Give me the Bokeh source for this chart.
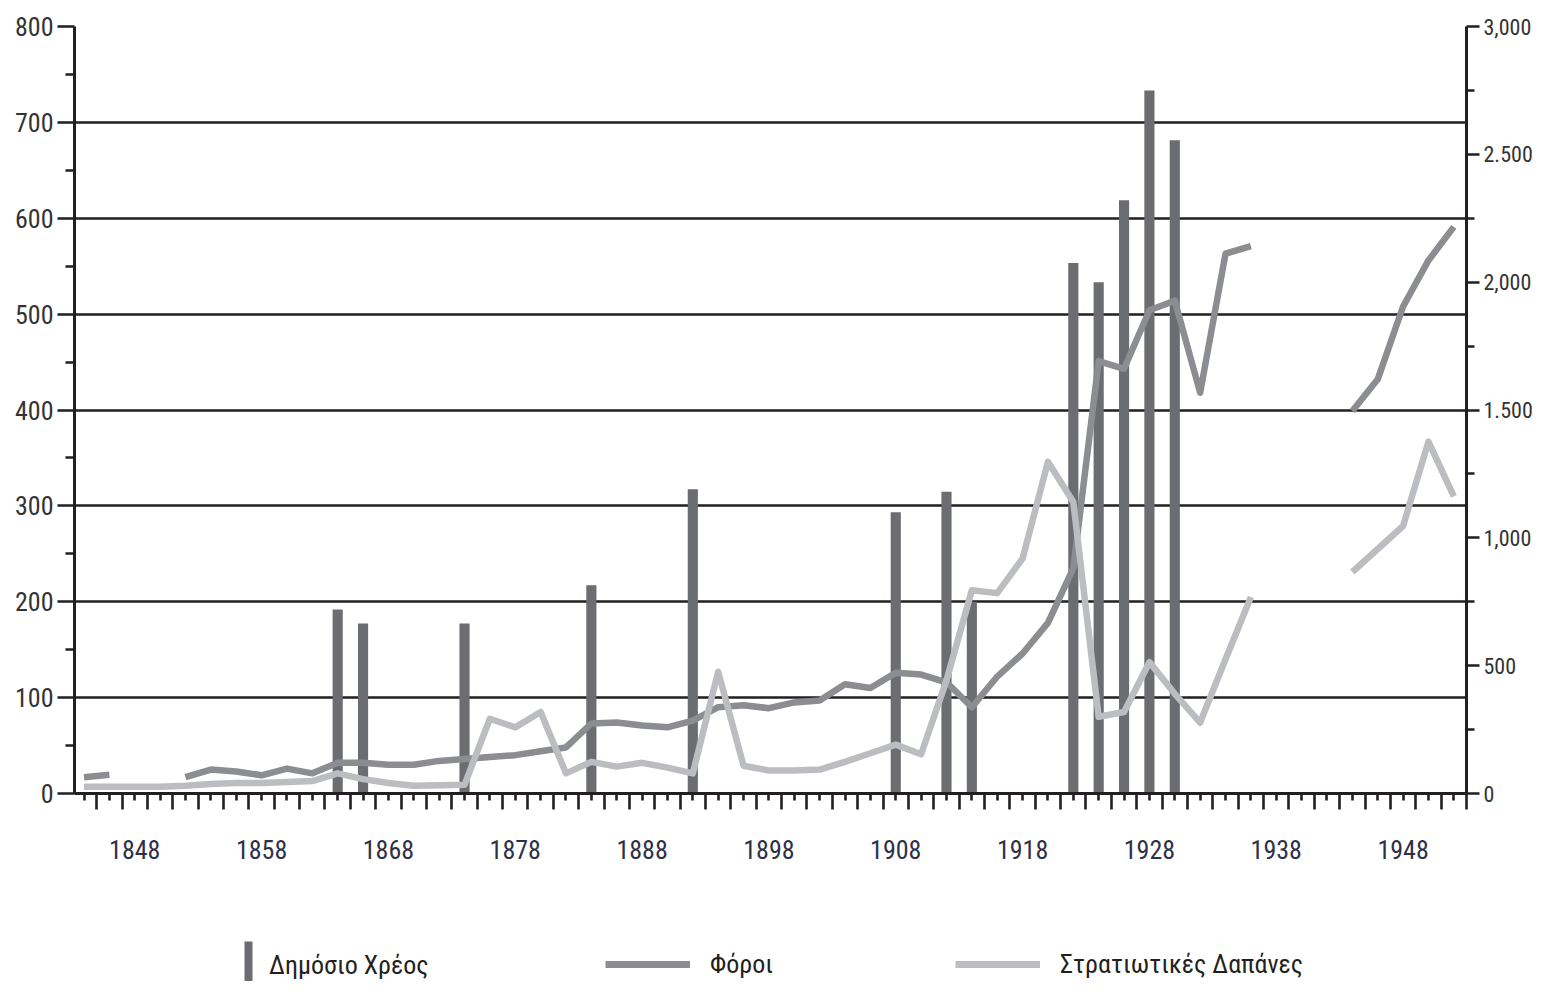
from bokeh.plotting import figure
from bokeh.models import Range1d, LinearAxis, FixedTicker, Legend, LegendItem
from bokeh.layouts import column
from bokeh.embed import file_html
from bokeh.resources import INLINE

NaN = float("nan")

# ---- data ----
debt_years = [1864, 1866, 1874, 1884, 1892, 1908, 1912, 1914, 1922, 1924, 1926, 1928, 1930]
debt_values = [720, 665, 665, 815, 1190, 1100, 1180, 750, 2075, 2000, 2320, 2750, 2555]  # right axis

tax_years = [1844, 1846, NaN,
             1852, 1854, 1856, 1858, 1860, 1862, 1864, 1866, 1868, 1870, 1872, 1874,
             1876, 1878, 1880, 1882, 1884, 1886, 1888, 1890, 1892, 1894, 1896, 1898,
             1900, 1902, 1904, 1906, 1908, 1910, 1912, 1914, 1916, 1918, 1920, 1922,
             1924, 1926, 1928, 1930, 1932, 1934, 1936, NaN,
             1944, 1946, 1948, 1950, 1952]
tax_values = [17, 19.5, NaN,
              17, 25, 23, 19, 26, 21, 32, 32, 30, 30, 34, 36,
              38, 40, 44, 48, 73, 74, 71, 69, 76, 90, 92, 89,
              95, 97, 114, 110, 126, 124, 116, 90, 122, 146, 178, 235,
              451, 443, 504, 514, 418, 563, 571, NaN,
              399, 432, 508, 556, 591]

mil_years = [1844, 1846, 1848, 1850, 1852, 1854, 1856, 1858, 1860, 1862, 1864, 1866,
             1868, 1870, 1872, 1874, 1876, 1878, 1880, 1882, 1884, 1886, 1888, 1890,
             1892, 1894, 1896, 1898, 1900, 1902, 1904, 1906, 1908, 1910, 1912, 1914,
             1916, 1918, 1920, 1922, 1924, 1926, 1928, 1930, 1932, 1934, 1936, NaN,
             1944, 1946, 1948, 1950, 1952]
mil_values = [7, 7, 7, 7, 8, 10, 11, 11, 12, 13, 21, 15,
              11, 8, 8.5, 9, 78, 69, 85, 21, 33, 28, 32, 27,
              21, 127, 29, 24, 24, 25, 33, 42, 51, 41, 118, 212,
              209, 245, 346, 304, 80, 85, 137, 104, 74, 140, 205, NaN,
              231, 255, 279, 367, 310]

left_ticks = [0, 100, 200, 300, 400, 500, 600, 700, 800]
right_ticks = [0, 500, 1000, 1500, 2000, 2500, 3000]
right_labels = ["0", "500", "1,000", "1.500", "2,000", "2.500", "3,000"]
x_label_years = [1848, 1858, 1868, 1878, 1888, 1898, 1908, 1918, 1928, 1938, 1948]

legend_labels = ["Δημόσιο Χρέος", "Φόροι", "Στρατιωτικές Δαπάνες"]

# ---- style ----
FONT = "Roboto Condensed"
INK = "#231f20"
BAR = "#6c6d71"
TAX = "#8c8d91"
MIL = "#bcbdc0"

W = 1535
H1 = 870
H2 = 111
FRAME_LEFT = 74

p = figure(width=W, height=H1, output_backend="svg", toolbar_location=None,
           x_range=Range1d(1843.25, 1953.0), y_range=Range1d(0, 800),
           min_border_left=FRAME_LEFT, min_border_right=W - 1468, min_border_top=26,
           min_border_bottom=H1 - 793)
p.extra_y_ranges = {"right": Range1d(0, 3000)}
p.outline_line_color = None

p.xgrid.grid_line_color = None
p.ygrid.ticker = FixedTicker(ticks=left_ticks)
p.ygrid.grid_line_color = INK
p.ygrid.grid_line_width = 2.6


def style_axis(ax, major_out, minor_out, standoff, size, color):
    ax.major_tick_in = 0
    ax.major_tick_out = major_out
    ax.minor_tick_in = 0
    ax.minor_tick_out = minor_out
    ax.major_tick_line_width = 2.6
    ax.minor_tick_line_width = 2.6
    ax.major_tick_line_color = INK
    ax.minor_tick_line_color = INK
    ax.axis_line_width = 3
    ax.axis_line_color = INK
    ax.major_label_standoff = standoff
    ax.major_label_text_font = FONT
    ax.major_label_text_font_size = size
    ax.major_label_text_color = color


# bottom axis
xa = p.xaxis[0]
even_years = list(range(1844, 1953, 2))
odd_years = list(range(1845, 1954, 2))
xa.ticker = FixedTicker(ticks=even_years, minor_ticks=odd_years)
xa.major_label_overrides = {y: (str(y) if y in x_label_years else "") for y in even_years}
style_axis(xa, 7, 16, 30, "26px", "#2e3048")

# left axis
ya = p.yaxis[0]
ya.ticker = FixedTicker(ticks=left_ticks, minor_ticks=[50 + 100 * i for i in range(8)])
style_axis(ya, 17, 9, 4, "26px", "#333333")

# right axis
ra = LinearAxis(y_range_name="right")
ra.ticker = FixedTicker(ticks=right_ticks, minor_ticks=[250 + 500 * i for i in range(6)])
ra.major_label_overrides = dict(zip(right_ticks, right_labels))
style_axis(ra, 13, 8, 4, "22px", "#333333")
p.add_layout(ra, "right")

# glyphs
p.vbar(x=debt_years, top=debt_values, bottom=0, width=0.8,
       fill_color=BAR, line_color=None, y_range_name="right")
p.line(x=tax_years, y=tax_values, line_color=TAX, line_width=6.5, line_join="round")
p.line(x=mil_years, y=mil_values, line_color=MIL, line_width=6.5, line_join="round")

# ---- legend strip (separate figure; its frame is aligned with the main frame) ----
q = figure(width=W, height=H2, output_backend="svg", toolbar_location=None,
           x_range=Range1d(0, 1), y_range=Range1d(0, 1),
           x_axis_type=None, y_axis_type=None,
           min_border_left=0, min_border_right=0, min_border_top=0, min_border_bottom=0)
q.outline_line_color = None
q.xgrid.grid_line_color = None
q.ygrid.grid_line_color = None
# hidden copies of the series, used only for the legend swatches
lbar = q.vbar(x=debt_years, top=debt_values, bottom=0, width=0.8, fill_color=BAR,
              line_color=None, visible=False)
ltax = q.line(x=tax_years, y=tax_values, line_color=TAX, line_width=7, visible=False)
lmil = q.line(x=mil_years, y=mil_values, line_color=MIL, line_width=7, visible=False)


def make_legend(item, loc, gw, gh, standoff):
    lg = Legend(items=[item], location=loc, orientation="horizontal",
                glyph_width=gw, glyph_height=gh, label_height=gh,
                label_standoff=standoff, padding=0, margin=0, spacing=0,
                border_line_color=None, background_fill_alpha=0,
                inactive_fill_alpha=0,
                label_text_font=FONT, label_text_font_size="26px",
                label_text_color=INK)
    q.add_layout(lg, "center")


make_legend(LegendItem(label=legend_labels[0], renderers=[lbar]), (243 - FRAME_LEFT, -14), 10, 60, 16)
make_legend(LegendItem(label=legend_labels[1], renderers=[ltax]), (605 - FRAME_LEFT, 0), 85, 34, 20)
make_legend(LegendItem(label=legend_labels[2], renderers=[lmil]), (955 - FRAME_LEFT, 0), 85, 34, 20)

layout = column(p, q, spacing=0)
open("out.html", "w").write(file_html(layout, INLINE))
